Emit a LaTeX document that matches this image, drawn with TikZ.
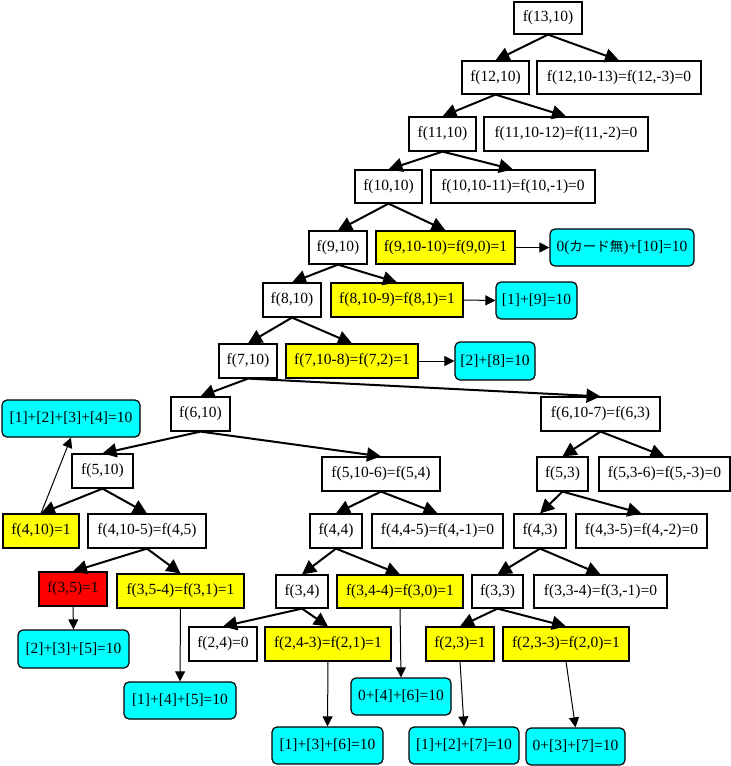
\documentclass[tikz,border=0pt]{standalone}
\usepackage{fontspec}
\setmainfont{Liberation Serif}
\newfontfamily\jpfont{Noto Sans CJK JP}
\usetikzlibrary{arrows.meta}
\definecolor{cyanbox}{RGB}{0,255,255}
\definecolor{yellowbox}{RGB}{255,255,0}
\definecolor{redbox}{RGB}{255,0,0}
\begin{document}
\begin{tikzpicture}[x=1pt,y=-1pt,
  base/.style={draw=black, line width=1.2pt, inner sep=0pt, font=\fontsize{15.5}{18}\selectfont, text=black},
  sz/.style 2 args={minimum width=#1pt, minimum height=#2pt},
  plain/.style={base, fill=white},
  hit/.style={base, fill=yellowbox},
  bad/.style={base, fill=redbox},
  res/.style={base, fill=cyanbox, rounded corners=5pt},
  tree/.style={line width=2pt, -{Triangle[length=14pt,width=14pt]}},
  resedge/.style={line width=1pt, -{Triangle[length=10pt,width=10pt]}}]
\useasboundingbox (0,0) rectangle (731,766);
% row nodes
\node[plain, sz={68}{32}] (n13) at (548,18) {f(13,10)};
\node[plain, sz={67}{33}] (n12) at (495.5,77.5) {f(12,10)};
\node[plain, sz={164}{33}] (z12) at (619,77.5) {f(12,10-13)=f(12,-3)=0};
\node[plain, sz={67}{34}] (n11) at (442.5,134) {f(11,10)};
\node[plain, sz={164}{34}] (z11) at (566,134) {f(11,10-12)=f(11,-2)=0};
\node[plain, sz={67}{33}] (n10) at (388.5,186.5) {f(10,10)};
\node[plain, sz={164}{33}] (z10) at (513,186.5) {f(10,10-11)=f(10,-1)=0};
\node[plain, sz={58}{33}] (n9) at (338,247.5) {f(9,10)};
\node[hit, sz={139}{33}] (y9) at (445.5,247.5) {f(9,10-10)=f(9,0)=1};
\node[res, sz={144}{37}] (c9) at (622,247.5) {0({\jpfont\fontsize{13.5}{16}\selectfont カード無})+[10]=10};
\node[plain, sz={58}{34}] (n8) at (292,300) {f(8,10)};
\node[hit, sz={132}{34}] (y8) at (397,300) {f(8,10-9)=f(8,1)=1};
\node[res, sz={81}{37}] (c8) at (536.5,300.5) {[1]+[9]=10};
\node[plain, sz={58}{34}] (n7) at (248,361) {f(7,10)};
\node[hit, sz={132}{34}] (y7) at (352,361) {f(7,10-8)=f(7,2)=1};
\node[res, sz={80}{38}] (c7) at (495,361) {[2]+[8]=10};
\node[plain, sz={59}{34}] (n6) at (200.5,414) {f(6,10)};
\node[plain, sz={119}{34}] (m6) at (600.5,414) {f(6,10-7)=f(6,3)};
\node[res, sz={138}{37}] (c4) at (71,418.5) {[1]+[2]+[3]+[4]=10};
\node[plain, sz={61}{34}] (n5) at (102.5,471) {f(5,10)};
\node[plain, sz={118}{34}] (m5) at (381,474) {f(5,10-6)=f(5,4)};
\node[plain, sz={51}{34}] (n53) at (562.5,474) {f(5,3)};
\node[plain, sz={131}{34}] (z53) at (664.5,474) {f(5,3-6)=f(5,-3)=0};
\node[hit, sz={76}{34}] (y410) at (41,531) {f(4,10)=1};
\node[plain, sz={118}{34}] (m45) at (147,531) {f(4,10-5)=f(4,5)};
\node[plain, sz={52}{34}] (n44) at (336,531) {f(4,4)};
\node[plain, sz={131}{34}] (z44) at (437.5,531) {f(4,4-5)=f(4,-1)=0};
\node[plain, sz={52}{34}] (n43) at (540,531) {f(4,3)};
\node[plain, sz={131}{34}] (z43) at (641.5,531) {f(4,3-5)=f(4,-2)=0};
\node[bad, sz={68}{34}] (r35) at (73,589) {f(3,5)=1};
\node[hit, sz={127}{34}] (y35) at (180.5,591) {f(3,5-4)=f(3,1)=1};
\node[plain, sz={52}{33}] (n34) at (302,591.5) {f(3,4)};
\node[hit, sz={126}{33}] (y34) at (400,591.5) {f(3,4-4)=f(3,0)=1};
\node[plain, sz={51}{33}] (n33) at (497.5,591.5) {f(3,3)};
\node[plain, sz={133}{33}] (z33) at (600.5,591.5) {f(3,3-4)=f(3,-1)=0};
\node[res, sz={111}{38}] (c235) at (73.5,649) {[2]+[3]+[5]=10};
\node[plain, sz={68}{34}] (n24) at (223,644) {f(2,4)=0};
\node[hit, sz={126}{34}] (y24) at (328,644) {f(2,4-3)=f(2,1)=1};
\node[hit, sz={68}{34}] (y23) at (460,644) {f(2,3)=1};
\node[hit, sz={126}{34}] (y20) at (566,644) {f(2,3-3)=f(2,0)=1};
\node[res, sz={112}{37}] (c145) at (180,700.5) {[1]+[4]+[5]=10};
\node[res, sz={100}{37}] (c046) at (401,696.5) {0+[4]+[6]=10};
\node[res, sz={111}{37}] (c136) at (327.5,745.5) {[1]+[3]+[6]=10};
\node[res, sz={110}{37}] (c127) at (464,745.5) {[1]+[2]+[7]=10};
\node[res, sz={99}{37}] (c037) at (575.5,746.5) {0+[3]+[7]=10};
% tree edges
\foreach \p/\c in {n13/n12, n13/z12, n12/n11, n12/z11, n11/n10, n11/z10,
  n10/n9, n10/y9, n9/n8, n9/y8, n8/n7, n8/y7, n7/n6, n7/m6,
  n6/n5, n6/m5, n5/y410, n5/m45, m45/r35, m45/y35,
  m5/n44, m5/z44, n44/n34, n44/y34, n34/n24, n34/y24,
  m6/n53, m6/z53, n53/n43, n53/z43, n43/n33, n43/z33, n33/y23, n33/y20}
  \draw[tree] (\p.south) -- (\c.north);
% result edges
\draw[resedge] (y9.east) -- (c9.west);
\draw[resedge] (y8.east) -- (c8.west);
\draw[resedge] (y7.east) -- (c7.west);
\draw[resedge] (y410.north) -- (c4.south);
\foreach \p/\c in {r35/c235, y35/c145, y24/c136, y34/c046, y23/c127, y20/c037}
  \draw[resedge] (\p.south) -- (\c.north);
\end{tikzpicture}
\end{document}
